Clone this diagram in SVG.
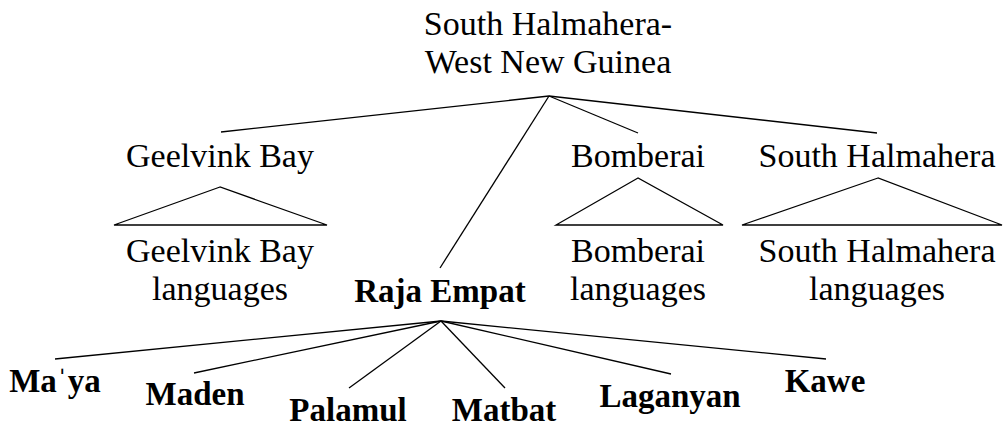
<svg xmlns="http://www.w3.org/2000/svg" width="1005" height="426" viewBox="0 0 1005 426">
<style>
text{font-family:"Liberation Serif","Times New Roman",serif;fill:#000;text-anchor:middle}
.r{font-size:34px}
.b{font-size:33px;font-weight:bold}
line,polygon{stroke:#000;stroke-width:1.3;fill:none}
</style>
<rect width="1005" height="426" fill="#fff"/>
<g id="connectors">
<line x1="549" y1="96" x2="221" y2="132"/>
<line x1="549" y1="96" x2="440" y2="268"/>
<line x1="549" y1="96" x2="638" y2="133"/>
<line x1="549" y1="96" x2="877" y2="133"/>
<polygon points="220,187 114,225 327,225"/>
<polygon points="638,178 556,225 723,225"/>
<polygon points="878,178 742,225 1002,225"/>
<line x1="441" y1="321" x2="55" y2="359"/>
<line x1="441" y1="321" x2="194" y2="373"/>
<line x1="441" y1="321" x2="349" y2="388"/>
<line x1="441" y1="321" x2="505" y2="388"/>
<line x1="441" y1="321" x2="671" y2="374"/>
<line x1="441" y1="321" x2="826" y2="359"/>
</g>
<g id="root"><text class="r" x="548" y="35">South Halmahera-</text><text class="r" x="548" y="73">West New Guinea</text></g>
<g id="geelvink"><text class="r" x="220" y="167">Geelvink Bay</text></g>
<g id="bomberai"><text class="r" x="638" y="167">Bomberai</text></g>
<g id="southhalmahera"><text class="r" x="877" y="167">South Halmahera</text></g>
<g id="geelvink-langs"><text class="r" x="220" y="262">Geelvink Bay</text><text class="r" x="220" y="300">languages</text></g>
<g id="bomberai-langs"><text class="r" x="638" y="262">Bomberai</text><text class="r" x="638" y="300">languages</text></g>
<g id="southhalmahera-langs"><text class="r" x="877" y="262">South Halmahera</text><text class="r" x="877" y="300">languages</text></g>
<g id="rajaempat"><text class="b" x="440" y="302">Raja Empat</text></g>
<g id="maya"><text class="b" x="55" y="392">Maˈya</text></g>
<g id="maden"><text class="b" x="195" y="405">Maden</text></g>
<g id="palamul"><text class="b" x="348" y="421">Palamul</text></g>
<g id="matbat"><text class="b" x="504" y="421">Matbat</text></g>
<g id="laganyan"><text class="b" x="670" y="407">Laganyan</text></g>
<g id="kawe"><text class="b" x="825" y="392">Kawe</text></g>
</svg>
